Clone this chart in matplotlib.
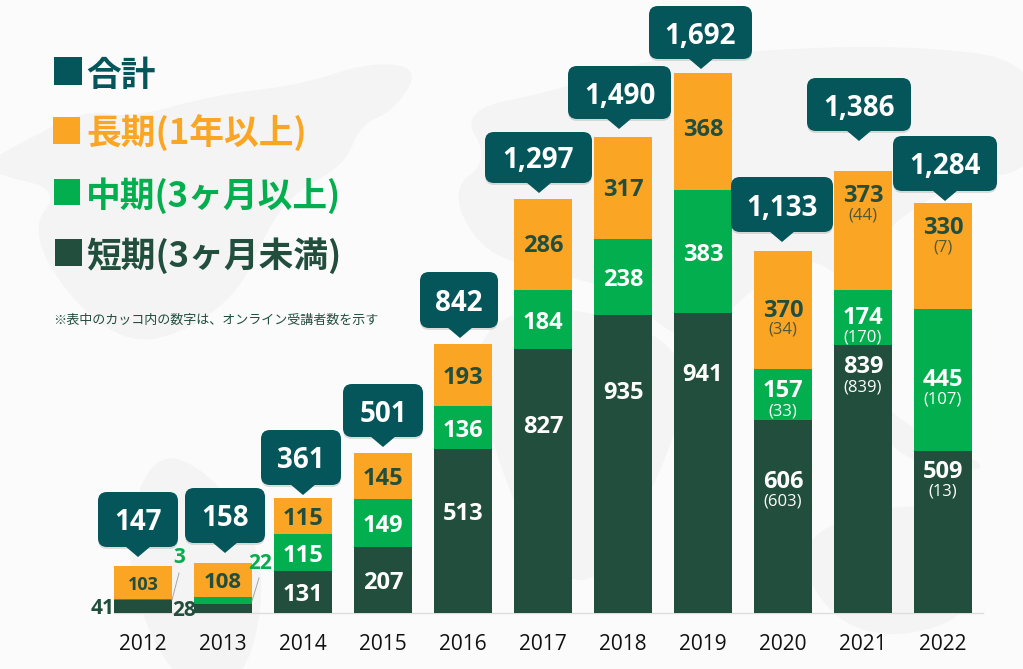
import matplotlib
matplotlib.use("Agg")
import matplotlib.pyplot as plt
from matplotlib.patches import FancyBboxPatch, Polygon, Rectangle

plt.rcParams['font.family'] = ['Open Sans', 'Noto Sans CJK JP', 'DejaVu Sans']

years = [2012, 2013, 2014, 2015, 2016, 2017, 2018, 2019, 2020, 2021, 2022]
short = [41, 28, 131, 207, 513, 827, 935, 941, 606, 839, 509]
mid = [3, 22, 115, 149, 136, 184, 238, 383, 157, 174, 445]
long_ = [103, 108, 115, 145, 193, 286, 317, 368, 370, 373, 330]
totals = [147, 158, 361, 501, 842, 1297, 1490, 1692, 1133, 1386, 1284]
online_short = {2020: 603, 2021: 839, 2022: 13}
online_mid = {2020: 33, 2021: 170, 2022: 107}
online_long = {2020: 34, 2021: 44, 2022: 7}

C_TOTAL = '#04565a'
C_LONG = '#fba524'
C_MID = '#03ae4e'
C_SHORT = '#224e3e'
C_BG = '#fbfbfb'
C_MAP = '#f4f4f4'

W, H = 1023, 669
BASE = 613
SCALE = 540 / 1692
X0, STEP = 143, 80

fig = plt.figure(figsize=(W / 100, H / 100), dpi=100, facecolor=C_BG)


def smooth(pts, n=3):
    # corner cutting so the map shapes do not look like polygons
    for _ in range(n):
        out = []
        for j in range(len(pts)):
            a, b = pts[j], pts[(j + 1) % len(pts)]
            out.append((0.75 * a[0] + 0.25 * b[0], 0.75 * a[1] + 0.25 * b[1]))
            out.append((0.25 * a[0] + 0.75 * b[0], 0.25 * a[1] + 0.75 * b[1]))
        pts = out
    return pts


# pixel layer for the background map
bg = fig.add_axes([0, 0, 1, 1], zorder=0)
bg.set_xlim(0, W)
bg.set_ylim(H, 0)
bg.axis('off')

blobs = [
    [(-20, 165), (45, 130), (90, 110), (130, 118), (215, 95), (300, 85), (370, 62), (420, 68), (395, 110), (360, 125),
     (345, 165), (290, 195), (262, 240), (240, 290), (190, 330), (130, 345), (70, 300), (30, 230), (60, 190), (0, 175)],
    [(460, 110), (560, 90), (640, 60), (760, 50), (900, 45), (1040, 60), (1040, 170), (960, 180), (880, 230), (860, 290),
     (800, 250), (740, 300), (690, 350), (620, 290), (540, 270), (480, 250), (450, 190), (490, 160)],
    [(150, 450), (210, 470), (270, 560), (245, 690), (175, 690), (120, 560)],
    [(470, 330), (560, 300), (700, 350), (660, 480), (590, 600), (530, 540), (490, 440)],
    [(790, 540), (900, 500), (960, 520), (980, 610), (900, 640), (830, 620)],
    [(860, 380), (910, 430), (1000, 470), (930, 470), (880, 440)],
]
for pts in blobs:
    bg.add_patch(Polygon(smooth(pts), closed=True, fc=C_MAP, ec='none'))

ax = fig.add_axes([0, 0, 1, 1], zorder=1)
ax.patch.set_alpha(0)
ax.set_xlim(-X0 / STEP, (W - X0) / STEP)
ax.set_ylim(-(H - BASE) / SCALE, BASE / SCALE)
ax.axis('off')

xs = list(range(len(years)))
bottom_mid = [a for a in short]
bottom_long = [a + b for a, b in zip(short, mid)]
ax.bar(xs, short, width=0.725, color=C_SHORT)
ax.bar(xs, mid, width=0.725, bottom=bottom_mid, color=C_MID)
ax.bar(xs, long_, width=0.725, bottom=bottom_long, color=C_LONG)
ax.plot([-0.36, 10.5], [0, 0], color='#dddddd', lw=1, zorder=0)

top = fig.add_axes([0, 0, 1, 1], zorder=2)
top.patch.set_alpha(0)
top.set_xlim(0, W)
top.set_ylim(H, 0)
top.axis('off')

# segment labels, pixel y where they are not centred in the segment
moved = {
    (2016, 0): 511, (2017, 0): 424, (2018, 0): 390, (2019, 0): 372,
    (2018, 2): 187, (2019, 2): 127, (2017, 2): 243,
    (2020, 0): 479, (2020, 1): 388, (2020, 2): 308,
    (2021, 0): 364, (2021, 1): 315, (2021, 2): 193,
    (2022, 0): 469, (2022, 1): 377, (2022, 2): 225,
}
sub_y = {
    (2020, 0): 500, (2020, 1): 410, (2020, 2): 328,
    (2021, 0): 385, (2021, 1): 335, (2021, 2): 214,
    (2022, 0): 489, (2022, 1): 397, (2022, 2): 245,
}
online = [online_short, online_mid, online_long]
for i, y in enumerate(years):
    segs = [(short[i], 0), (mid[i], bottom_mid[i]), (long_[i], bottom_long[i])]
    for k, (v, b) in enumerate(segs):
        if y < 2014 and k < 2:
            continue
        col = C_SHORT if k == 2 else 'white'
        px = X0 + STEP * i
        py = moved.get((y, k), BASE - (b + v / 2) * SCALE)
        size = 17
        if y == 2012:
            size = 13
        elif y == 2013:
            size = 16
        top.text(px, py, str(v), color=col, fontsize=size, fontweight='bold', ha='center', va='center_baseline')
        if y in online[k]:
            top.text(px, sub_y[(y, k)], '(%d)' % online[k][y], color='white' if k < 2 else '#4d5a3a',
                     fontsize=12, ha='center', va='center_baseline')

# the thin segments of the first two years are labelled outside the bars
small = [(103, 606, 41, C_SHORT), (184, 608, 28, C_SHORT), (179, 555, 3, C_MID), (260, 561, 22, C_MID)]
for sx, sy, v, c in small:
    top.text(sx, sy, str(v), color=c, fontsize=15, fontweight='bold', ha='center', va='center_baseline')
top.plot([172, 179], [600, 573], color='#a6a6a6', lw=0.7)
top.plot([252, 259], [601, 578], color='#a6a6a6', lw=0.7)

# callouts
boxes = [(98, 178, 492, 547, 138), (185, 265, 488, 543, 225), (261, 341, 430, 485, 303),
         (343, 423, 384, 437, 383), (420, 498, 272, 328, 460), (485, 592, 132, 183, 539),
         (568, 671, 66, 119, 619), (649, 752, 6, 59, 701), (731, 833, 177, 232, 782),
         (807, 911, 78, 131, 859), (893, 997, 136, 191, 945)]
for (x1, x2, y1, y2, tip), v in zip(boxes, totals):
    # soft shadow first
    top.add_patch(FancyBboxPatch((x1 + 8, y1 + 10), x2 - x1 - 16, y2 - y1 - 16,
                                 boxstyle='round,pad=8,rounding_size=9', fc='#000000', alpha=0.12, ec='none'))
    top.add_patch(FancyBboxPatch((x1 + 8, y1 + 8), x2 - x1 - 16, y2 - y1 - 16,
                                 boxstyle='round,pad=8,rounding_size=9', fc=C_TOTAL, ec='none'))
    top.add_patch(Polygon([(tip - 13, y2 - 1), (tip + 13, y2 - 1), (tip, y2 + 10)], closed=True, fc=C_TOTAL, ec='none'))
    top.text((x1 + x2) / 2, (y1 + y2) / 2, format(v, ','), color='white', fontsize=20, fontweight='bold',
             ha='center', va='center_baseline')

for i, y in enumerate(years):
    top.text(X0 + STEP * i, 642, str(y), color='#111111', fontsize=15, ha='center', va='center_baseline')

# legend
legend = [('合計', C_TOTAL, 71, 72, 54, 28), ('長期(1年以上)', C_LONG, 130, 130, 53, 27),
          ('中期(3ヶ月以上)', C_MID, 192, 192, 54, 26), ('短期(3ヶ月未満)', C_SHORT, 252, 252, 55, 27)]
jp = ['Noto Sans CJK JP', 'DejaVu Sans']
for label, c, sq, ly, lx, sz in legend:
    top.add_patch(Rectangle((lx, sq - sz / 2), sz, sz, fc=c, ec='none'))
    top.text(86, ly, label, color=c, fontsize=25, fontweight='bold', family=jp, ha='left', va='center_baseline')
top.text(53, 319, '※表中のカッコ内の数字は、オンライン受講者数を示す', color=C_SHORT, fontsize=9.4, family=jp,
         ha='left', va='center_baseline')

fig.savefig('out.png', dpi=100, facecolor=C_BG)
